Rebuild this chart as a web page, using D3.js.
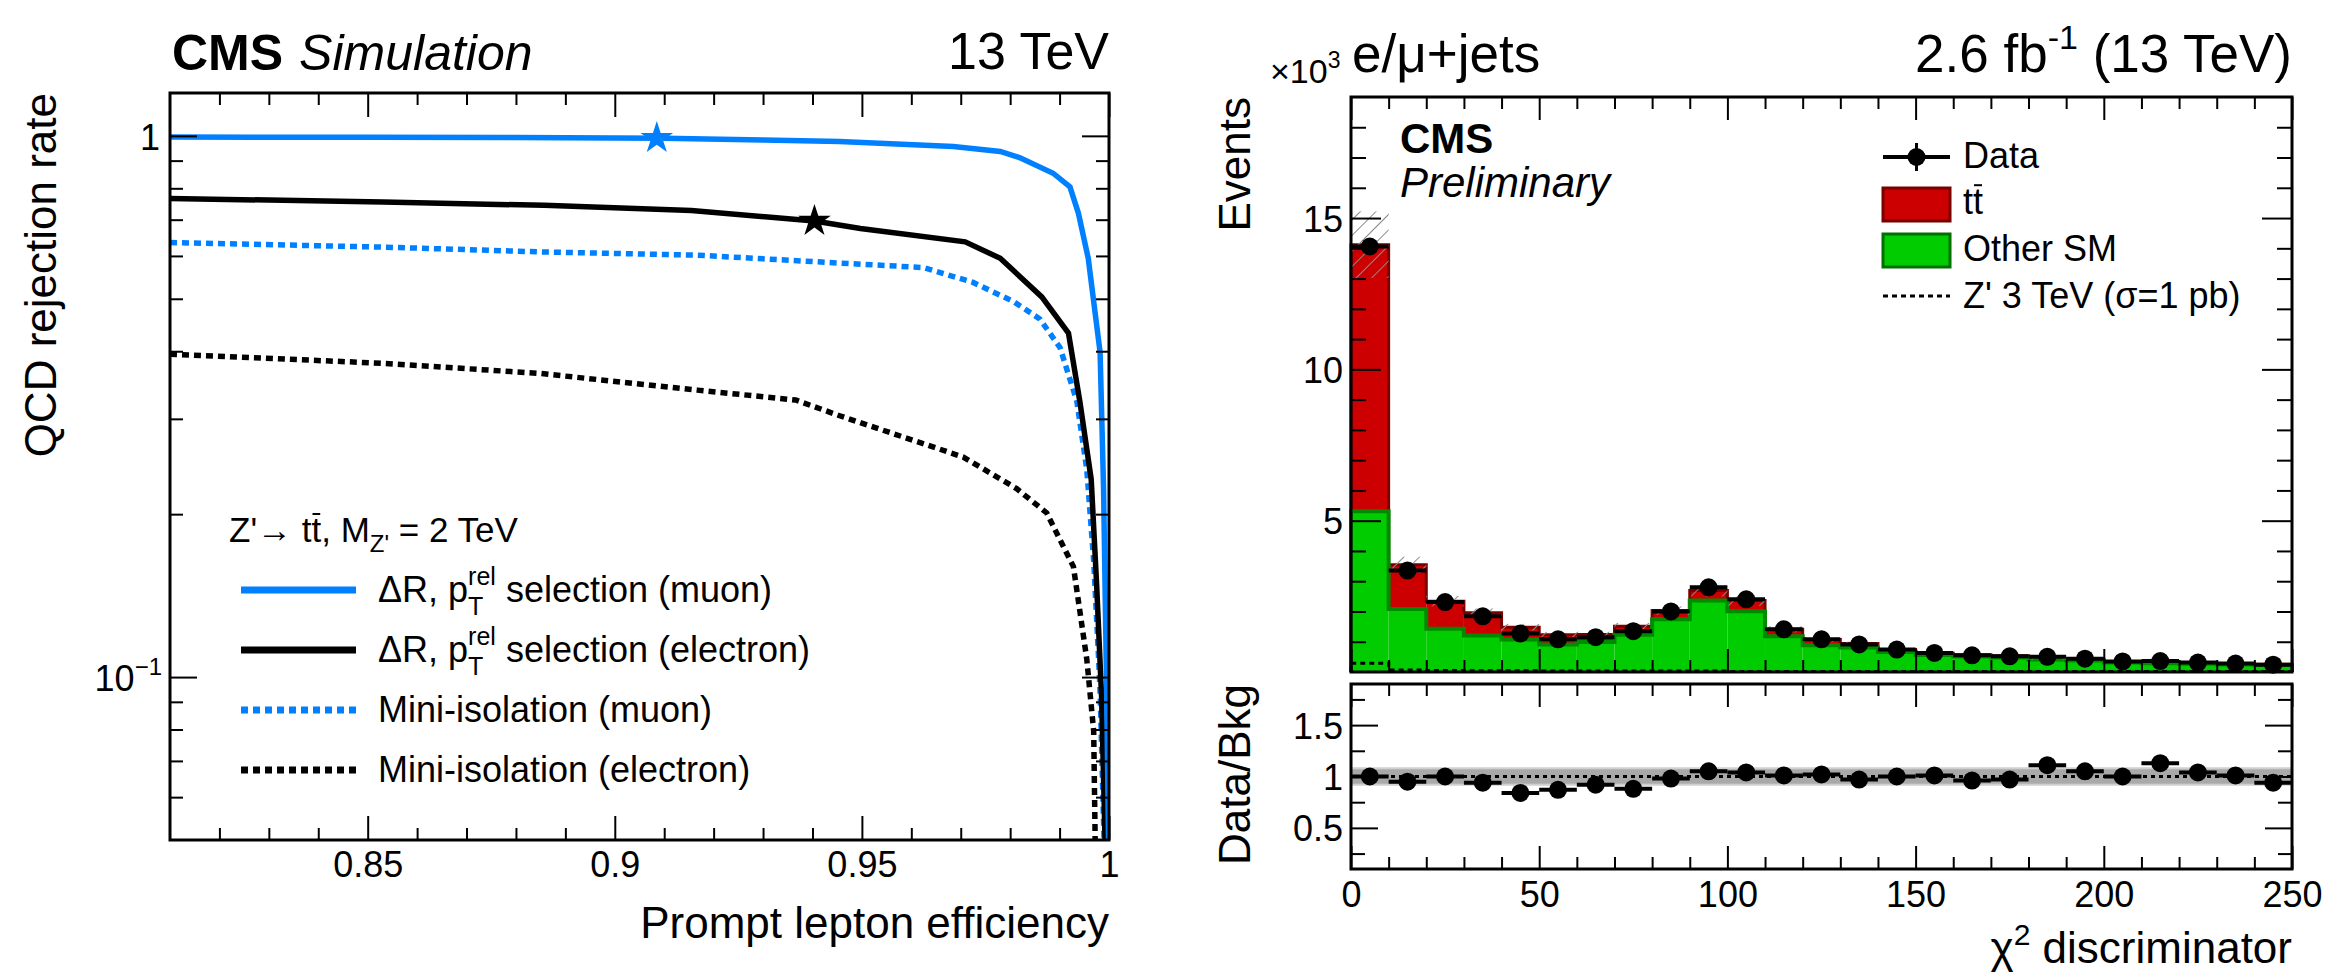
<!DOCTYPE html>
<html>
<head lang="en">
<meta charset="utf-8">
<script src="https://d3js.org/d3.v7.min.js"></script>
<style>
  body { margin: 0; background: #fff; }
  text { font-family: "Liberation Sans", Arial, Helvetica, sans-serif; white-space: pre; }
</style>
</head>
<body>
<div id="chart"></div>
<script>
// ---------- left panel: QCD rejection vs prompt lepton efficiency ----------
const drMuonEff  = [0.81, 0.85, 0.88, 0.91, 0.93, 0.9455, 0.9685, 0.978, 0.982, 0.9887, 0.9921, 0.9938, 0.9958, 0.9982, 0.9989, 0.9995, 0.9999];
const drMuonRej  = [0.995, 0.994, 0.993, 0.99, 0.983, 0.976, 0.956, 0.936, 0.911, 0.853, 0.805, 0.72, 0.594, 0.398, 0.223, 0.098, 0.05];
const drElecEff  = [0.81, 0.8531, 0.8857, 0.9155, 0.9404, 0.9497, 0.9709, 0.978, 0.9864, 0.9918, 0.9941, 0.9964, 0.9975, 0.9985, 0.9992];
const drElecRej  = [0.766, 0.755, 0.744, 0.728, 0.696, 0.674, 0.637, 0.594, 0.504, 0.432, 0.323, 0.232, 0.148, 0.092, 0.05];
const miniMuonEff = [0.81, 0.8531, 0.886, 0.9167, 0.9455, 0.9625, 0.9725, 0.9807, 0.986, 0.9901, 0.9935, 0.9955, 0.9969, 0.9979, 0.9982, 0.999];
const miniMuonRej = [0.635, 0.623, 0.61, 0.602, 0.582, 0.571, 0.536, 0.494, 0.459, 0.406, 0.323, 0.242, 0.164, 0.108, 0.094, 0.05];
const miniElecEff = [0.81, 0.8531, 0.8848, 0.9167, 0.9366, 0.9455, 0.9705, 0.9813, 0.9874, 0.9928, 0.9955, 0.9969, 0.9972];
const miniElecRej = [0.395, 0.38, 0.364, 0.339, 0.325, 0.304, 0.255, 0.223, 0.201, 0.16, 0.108, 0.0795, 0.05];
const workingPoints = [[0.9085, 0.99], [0.9404, 0.696]];   // muon, electron
const effTicks = [0.85, 0.9, 0.95, 1];

// ---------- right panel: chi2 discriminator ----------
const binEdges = d3.range(0, 251, 10);
const otherSM = [5.31, 2.08, 1.43, 1.21, 1.07, 0.91, 0.99, 1.23, 1.74, 2.36, 2.01, 1.18, 0.88,
                 0.81, 0.66, 0.56, 0.51, 0.48, 0.41, 0.38, 0.31, 0.29, 0.27, 0.25, 0.23];
const ttbar   = [8.81, 1.46, 0.91, 0.75, 0.41, 0.32, 0.25, 0.28, 0.29, 0.33, 0.35, 0.23, 0.19,
                 0.13, 0.08, 0.06, 0.06, 0.06, 0.04, 0.04, 0.04, 0.03, 0.03, 0.03, 0.025];
const bkgUnc  = [1.1, 0.27, 0.17, 0.14, 0.11, 0.09, 0.09, 0.11, 0.14, 0.19, 0.17, 0.10, 0.08,
                 0.06, 0.05, 0.05, 0.04, 0.04, 0.04, 0.03, 0.03, 0.03, 0.02, 0.02, 0.02];
const dataEv  = [14.06, 3.35, 2.31, 1.84, 1.27, 1.08, 1.15, 1.35, 2.0, 2.80, 2.40, 1.41, 1.08,
                 0.91, 0.74, 0.63, 0.55, 0.52, 0.50, 0.44, 0.35, 0.36, 0.31, 0.28, 0.24];
const zprime  = [0.29, 0.07, 0.05, 0.04, 0.04, 0.03, 0.03, 0.03, 0.03, 0.03, 0.02, 0.02, 0.02,
                 0.02, 0.02, 0.02, 0.02, 0.02, 0.02, 0.02, 0.02, 0.02, 0.02, 0.02, 0.02];
const ratio   = [1.00, 0.95, 1.00, 0.94, 0.84, 0.87, 0.92, 0.88, 0.98, 1.05, 1.04, 1.01, 1.02,
                 0.97, 1.00, 1.01, 0.96, 0.97, 1.11, 1.05, 1.00, 1.13, 1.04, 1.01, 0.94];
const ratioBand = [0.09, 0.07];   // outer, inner half width
const eventTicks = [5, 10, 15];
const ratioTicks = [0.5, 1, 1.5];
const chiTicks = [0, 50, 100, 150, 200, 250];

const W = 2327, H = 976;
const svg = d3.select('#chart').append('svg').attr('width', W).attr('height', H);
svg.append('rect').attr('width', W).attr('height', H).attr('fill', '#fff');

const BLUE = '#0080ff';

// rich text helper: pieces laid out one after another
function rich(parent, x, y, parts, anchor) {
    const g = parent.append('g');
    let cx = x;
    parts.forEach(p => {
        if (p.stack) {
            const a = g.append('text').attr('x', cx).attr('y', y + p.supDy).attr('font-size', p.size).text(p.stack[0]);
            const b = g.append('text').attr('x', cx).attr('y', y + p.subDy).attr('font-size', p.size).text(p.stack[1]);
            cx += Math.max(a.node().getComputedTextLength(), b.node().getComputedTextLength());
            return;
        }
        const t = g.append('text').attr('x', cx).attr('y', y + (p.dy || 0))
            .attr('font-size', p.size)
            .attr('font-weight', p.bold ? 'bold' : null)
            .attr('font-style', p.italic ? 'italic' : null)
            .text(p.text);
        const w = t.node().getComputedTextLength();
        if (p.bar) {
            const lw = t.node().getSubStringLength(p.text.length - 1, 1);
            g.append('line')
                .attr('x1', cx + w - lw + 1).attr('x2', cx + w - 1)
                .attr('y1', y - p.size * 0.8).attr('y2', y - p.size * 0.8)
                .attr('stroke', '#000').attr('stroke-width', 2);
        }
        cx += w + (p.gap || 0);
    });
    if (anchor === 'end') g.attr('transform', `translate(${x - cx},0)`);
    return g;
}

function tickAxis(axisFn, scale, values, size, transform, fmt, pad) {
    const ax = axisFn(scale).tickValues(values).tickSize(size).tickSizeOuter(0)
        .tickFormat(fmt || (() => '')).tickPadding(pad || 0);
    const g = svg.append('g').attr('transform', transform).call(ax);
    g.attr('font-size', 36).attr('font-family', null);
    g.select('.domain').remove();
    g.selectAll('line').attr('stroke', '#000').attr('stroke-width', 2);
    g.selectAll('text').attr('fill', '#000');
    return g;
}

// ================= LEFT PANEL =================
const L = {x0: 170, x1: 1109, y0: 93, y1: 840};
const xL = d3.scaleLinear().domain([0.81, 1]).range([L.x0, L.x1]);
const yL = d3.scaleLog().domain([0.05, 1.2]).range([L.y1, L.y0]);

svg.append('clipPath').attr('id', 'clipL').append('rect')
    .attr('x', L.x0).attr('y', L.y0).attr('width', L.x1 - L.x0).attr('height', L.y1 - L.y0);

const curves = [
    {x: miniElecEff, y: miniElecRej, color: '#000', dash: '7 5'},
    {x: miniMuonEff, y: miniMuonRej, color: BLUE, dash: '7 5'},
    {x: drElecEff, y: drElecRej, color: '#000', dash: null},
    {x: drMuonEff, y: drMuonRej, color: BLUE, dash: null}
];
const lineL = d3.line().x(d => xL(d[0])).y(d => yL(d[1]));
const gc = svg.append('g').attr('clip-path', 'url(#clipL)');
curves.forEach(c => {
    gc.append('path')
        .attr('d', lineL(c.x.map((v, i) => [v, c.y[i]])))
        .attr('fill', 'none').attr('stroke', c.color).attr('stroke-width', 5.5)
        .attr('stroke-dasharray', c.dash);
});
const star = d3.symbol().type(d3.symbolStar).size(330);
svg.append('path').attr('d', star()).attr('fill', BLUE)
    .attr('transform', `translate(${xL(workingPoints[0][0])},${yL(workingPoints[0][1])})`);
svg.append('path').attr('d', star()).attr('fill', '#000')
    .attr('transform', `translate(${xL(workingPoints[1][0])},${yL(workingPoints[1][1])})`);

// ticks
const effMinor = d3.range(82, 100).map(v => v / 100).filter(v => !effTicks.includes(v));
tickAxis(d3.axisBottom, xL, effTicks, -24, `translate(0,${L.y1})`, d => String(d), 11);
tickAxis(d3.axisBottom, xL, effMinor, -12, `translate(0,${L.y1})`);
tickAxis(d3.axisTop, xL, effTicks, -24, `translate(0,${L.y0})`);
tickAxis(d3.axisTop, xL, effMinor, -12, `translate(0,${L.y0})`);
const rejMinor = [0.06, 0.07, 0.08, 0.09, 0.2, 0.3, 0.4, 0.5, 0.6, 0.7, 0.8, 0.9];
tickAxis(d3.axisLeft, yL, [0.1, 1], -27, `translate(${L.x0},0)`);
tickAxis(d3.axisLeft, yL, rejMinor, -13, `translate(${L.x0},0)`);
tickAxis(d3.axisRight, yL, [0.1, 1], -27, `translate(${L.x1},0)`);
tickAxis(d3.axisRight, yL, rejMinor, -13, `translate(${L.x1},0)`);

svg.append('text').attr('x', L.x0 - 10).attr('y', yL(1) + 14).attr('font-size', 36)
    .attr('text-anchor', 'end').text('1');
rich(svg, L.x0 - 8, yL(0.1) + 14, [
    {text: '10', size: 36},
    {text: '\u22121', size: 24, dy: -16}
], 'end');

svg.append('rect').attr('x', L.x0).attr('y', L.y0).attr('width', L.x1 - L.x0).attr('height', L.y1 - L.y0)
    .attr('fill', 'none').attr('stroke', '#000').attr('stroke-width', 3);

// titles
svg.append('text').attr('transform', `translate(56,${L.y0}) rotate(-90)`)
    .attr('text-anchor', 'end').attr('font-size', 44).text('QCD rejection rate');
svg.append('text').attr('x', L.x1).attr('y', 938).attr('text-anchor', 'end')
    .attr('font-size', 44).text('Prompt lepton efficiency');
rich(svg, 172, 70, [
    {text: 'CMS', size: 50, bold: true, gap: 16},
    {text: 'Simulation', size: 50, italic: true}
]);
svg.append('text').attr('x', L.x1).attr('y', 69).attr('text-anchor', 'end')
    .attr('font-size', 52).text('13 TeV');

// legend
rich(svg, 229, 542, [
    {text: 'Z\'\u2192 tt', size: 35, bar: true},
    {text: ', M', size: 35},
    {text: 'Z\'', size: 24, dy: 10},
    {text: ' = 2 TeV', size: 35}
]);
const legL = [
    {color: BLUE, dash: null, label: 'muon', pt: true},
    {color: '#000', dash: null, label: 'electron', pt: true},
    {color: BLUE, dash: '7 5', label: 'Mini-isolation (muon)'},
    {color: '#000', dash: '7 5', label: 'Mini-isolation (electron)'}
];
legL.forEach((d, i) => {
    const y = 590 + i * 60;
    svg.append('line').attr('x1', 241).attr('x2', 356).attr('y1', y).attr('y2', y)
        .attr('stroke', d.color).attr('stroke-width', 7).attr('stroke-dasharray', d.dash);
    if (d.pt) {
        rich(svg, 378, y + 12, [
            {text: '\u0394R, p', size: 36},
            {stack: ['rel', 'T'], size: 25, supDy: -17, subDy: 13},
            {text: ' selection (' + d.label + ')', size: 36}
        ]);
    } else {
        svg.append('text').attr('x', 378).attr('y', y + 12).attr('font-size', 36).text(d.label);
    }
});

// ================= RIGHT PANEL =================
const R = {x0: 1351, x1: 2292, y0: 97, y1: 672, r0: 684, r1: 869};
const xR = d3.scaleLinear().domain([0, 250]).range([R.x0, R.x1]);
const yR = d3.scaleLinear().domain([0, 19]).range([R.y1, R.y0]);
const yRat = d3.scaleLinear().domain([0.1, 1.9]).range([R.r1, R.r0]);

const defs = svg.append('defs');
defs.append('pattern').attr('id', 'hatch').attr('patternUnits', 'userSpaceOnUse')
    .attr('width', 11).attr('height', 11).attr('patternTransform', 'rotate(45)')
    .append('line').attr('x1', 0).attr('x2', 0).attr('y1', 0).attr('y2', 11)
    .attr('stroke', '#8a8a8a').attr('stroke-width', 2);

const bins = otherSM.map((o, i) => ({
    lo: binEdges[i], hi: binEdges[i + 1], other: o, total: o + ttbar[i],
    unc: bkgUnc[i], data: dataEv[i], sig: zprime[i], ratio: ratio[i]
}));

const gh = svg.append('g');
gh.selectAll('rect.sm').data(bins).join('rect').attr('class', 'sm')
    .attr('x', d => xR(d.lo)).attr('width', d => xR(d.hi) - xR(d.lo))
    .attr('y', d => yR(d.other)).attr('height', d => yR(0) - yR(d.other))
    .attr('fill', '#00cc00');
gh.selectAll('rect.tt').data(bins).join('rect').attr('class', 'tt')
    .attr('x', d => xR(d.lo)).attr('width', d => xR(d.hi) - xR(d.lo))
    .attr('y', d => yR(d.total)).attr('height', d => yR(d.other) - yR(d.total))
    .attr('fill', '#cc0000');

function stepPath(vals) {
    let p = `M${xR(binEdges[0])},${yR(0)}`;
    vals.forEach((v, i) => { p += `L${xR(binEdges[i])},${yR(v)}L${xR(binEdges[i + 1])},${yR(v)}`; });
    return p + `L${xR(binEdges[binEdges.length - 1])},${yR(0)}`;
}
gh.append('path').attr('d', stepPath(bins.map(d => d.total))).attr('fill', 'none')
    .attr('stroke', '#7a0000').attr('stroke-width', 3);
gh.append('path').attr('d', stepPath(bins.map(d => d.other))).attr('fill', 'none')
    .attr('stroke', '#008a00').attr('stroke-width', 4);

gh.selectAll('rect.unc').data(bins).join('rect').attr('class', 'unc')
    .attr('x', d => xR(d.lo)).attr('width', d => xR(d.hi) - xR(d.lo))
    .attr('y', d => yR(d.total + d.unc)).attr('height', d => yR(d.total - d.unc) - yR(d.total + d.unc))
    .attr('fill', 'url(#hatch)');

gh.append('path').attr('d', stepPath(bins.map(d => d.sig))).attr('fill', 'none')
    .attr('stroke', '#000').attr('stroke-width', 3).attr('stroke-dasharray', '5 4');

// data points
gh.selectAll('line.dx').data(bins).join('line').attr('class', 'dx')
    .attr('x1', d => xR(d.lo)).attr('x2', d => xR(d.hi))
    .attr('y1', d => yR(d.data)).attr('y2', d => yR(d.data))
    .attr('stroke', '#000').attr('stroke-width', 4);
gh.selectAll('circle.dp').data(bins).join('circle').attr('class', 'dp')
    .attr('cx', d => xR((d.lo + d.hi) / 2)).attr('cy', d => yR(d.data)).attr('r', 9).attr('fill', '#000');

// ratio panel
const gr = svg.append('g');
gr.append('rect').attr('x', R.x0).attr('width', R.x1 - R.x0)
    .attr('y', yRat(1 + ratioBand[0])).attr('height', yRat(1 - ratioBand[0]) - yRat(1 + ratioBand[0]))
    .attr('fill', '#cfcfcf');
gr.append('rect').attr('x', R.x0).attr('width', R.x1 - R.x0)
    .attr('y', yRat(1 + ratioBand[1])).attr('height', yRat(1 - ratioBand[1]) - yRat(1 + ratioBand[1]))
    .attr('fill', '#a9a9a9');
gr.append('line').attr('x1', R.x0).attr('x2', R.x1).attr('y1', yRat(1)).attr('y2', yRat(1))
    .attr('stroke', '#000').attr('stroke-width', 3).attr('stroke-dasharray', '4 4');
gr.selectAll('line.rx').data(bins).join('line').attr('class', 'rx')
    .attr('x1', d => xR(d.lo)).attr('x2', d => xR(d.hi))
    .attr('y1', d => yRat(d.ratio)).attr('y2', d => yRat(d.ratio))
    .attr('stroke', '#000').attr('stroke-width', 4);
gr.selectAll('circle').data(bins).join('circle')
    .attr('cx', d => xR((d.lo + d.hi) / 2)).attr('cy', d => yRat(d.ratio)).attr('r', 9).attr('fill', '#000');

// ticks right
const chiMinor = d3.range(10, 250, 10).filter(v => !chiTicks.includes(v));
[[R.y1, R.y0], [R.r1, R.r0]].forEach(([b, t], k) => {
    tickAxis(d3.axisBottom, xR, chiTicks, -23, `translate(0,${b})`, k === 1 ? (d => String(d)) : null, 12);
    tickAxis(d3.axisBottom, xR, chiMinor, -12, `translate(0,${b})`);
    tickAxis(d3.axisTop, xR, chiTicks, -23, `translate(0,${t})`);
    tickAxis(d3.axisTop, xR, chiMinor, -12, `translate(0,${t})`);
});
const evMinor = d3.range(1, 19).filter(v => !eventTicks.includes(v));
tickAxis(d3.axisLeft, yR, eventTicks, -30, `translate(${R.x0},0)`, d => String(d), 8)
    .selectAll('text').attr('dy', '0.36em');
tickAxis(d3.axisLeft, yR, evMinor, -15, `translate(${R.x0},0)`);
tickAxis(d3.axisRight, yR, eventTicks, -30, `translate(${R.x1},0)`);
tickAxis(d3.axisRight, yR, evMinor, -15, `translate(${R.x1},0)`);
const ratMinor = [0.25, 0.75, 1.25, 1.75];
tickAxis(d3.axisLeft, yRat, ratioTicks, -27, `translate(${R.x0},0)`, d => String(d), 8)
    .selectAll('text').attr('dy', '0.36em');
tickAxis(d3.axisLeft, yRat, ratMinor, -14, `translate(${R.x0},0)`);
tickAxis(d3.axisRight, yRat, ratioTicks, -27, `translate(${R.x1},0)`);
tickAxis(d3.axisRight, yRat, ratMinor, -14, `translate(${R.x1},0)`);

svg.append('rect').attr('x', R.x0).attr('y', R.y0).attr('width', R.x1 - R.x0).attr('height', R.y1 - R.y0)
    .attr('fill', 'none').attr('stroke', '#000').attr('stroke-width', 3);
svg.append('rect').attr('x', R.x0).attr('y', R.r0).attr('width', R.x1 - R.x0).attr('height', R.r1 - R.r0)
    .attr('fill', 'none').attr('stroke', '#000').attr('stroke-width', 3);

// titles right
svg.append('text').attr('transform', `translate(1250,${R.y0}) rotate(-90)`)
    .attr('text-anchor', 'end').attr('font-size', 44).text('Events');
svg.append('text').attr('transform', `translate(1250,${R.r0}) rotate(-90)`)
    .attr('text-anchor', 'end').attr('font-size', 44).text('Data/Bkg');
rich(svg, R.x1, 963, [
    {text: '\u03c7', size: 44},
    {text: '2', size: 30, dy: -18},
    {text: ' discriminator', size: 44}
], 'end');
rich(svg, 1270, 83, [
    {text: '\u00d710', size: 34},
    {text: '3', size: 23, dy: -15}
]);
svg.append('text').attr('x', 1352).attr('y', 72).attr('font-size', 53).text('e/\u03bc+jets');
rich(svg, R.x1, 72, [
    {text: '2.6 fb', size: 53},
    {text: '-1', size: 34, dy: -23},
    {text: ' (13 TeV)', size: 53}
], 'end');
svg.append('text').attr('x', 1400).attr('y', 153).attr('font-size', 42).attr('font-weight', 'bold').text('CMS');
svg.append('text').attr('x', 1400).attr('y', 197).attr('font-size', 42).attr('font-style', 'italic').text('Preliminary');

// legend right
const lx0 = 1883, lx1 = 1950, tx = 1963;
svg.append('line').attr('x1', lx0).attr('x2', lx1).attr('y1', 157).attr('y2', 157).attr('stroke', '#000').attr('stroke-width', 4);
svg.append('line').attr('x1', (lx0 + lx1) / 2).attr('x2', (lx0 + lx1) / 2).attr('y1', 143).attr('y2', 171).attr('stroke', '#000').attr('stroke-width', 3);
svg.append('circle').attr('cx', (lx0 + lx1) / 2).attr('cy', 157).attr('r', 9).attr('fill', '#000');
svg.append('text').attr('x', tx).attr('y', 168).attr('font-size', 36).text('Data');
svg.append('rect').attr('x', lx0).attr('y', 188).attr('width', lx1 - lx0).attr('height', 33)
    .attr('fill', '#cc0000').attr('stroke', '#7a0000').attr('stroke-width', 3);
rich(svg, tx, 214, [{text: 'tt', size: 36, bar: true}]);
svg.append('rect').attr('x', lx0).attr('y', 234).attr('width', lx1 - lx0).attr('height', 33)
    .attr('fill', '#00cc00').attr('stroke', '#007000').attr('stroke-width', 3);
svg.append('text').attr('x', tx).attr('y', 261).attr('font-size', 36).text('Other SM');
svg.append('line').attr('x1', lx0).attr('x2', lx1).attr('y1', 296).attr('y2', 296)
    .attr('stroke', '#000').attr('stroke-width', 3).attr('stroke-dasharray', '5 4');
svg.append('text').attr('x', tx).attr('y', 308).attr('font-size', 36).text('Z\' 3 TeV (\u03c3=1 pb)');
</script>
</body>
</html>
